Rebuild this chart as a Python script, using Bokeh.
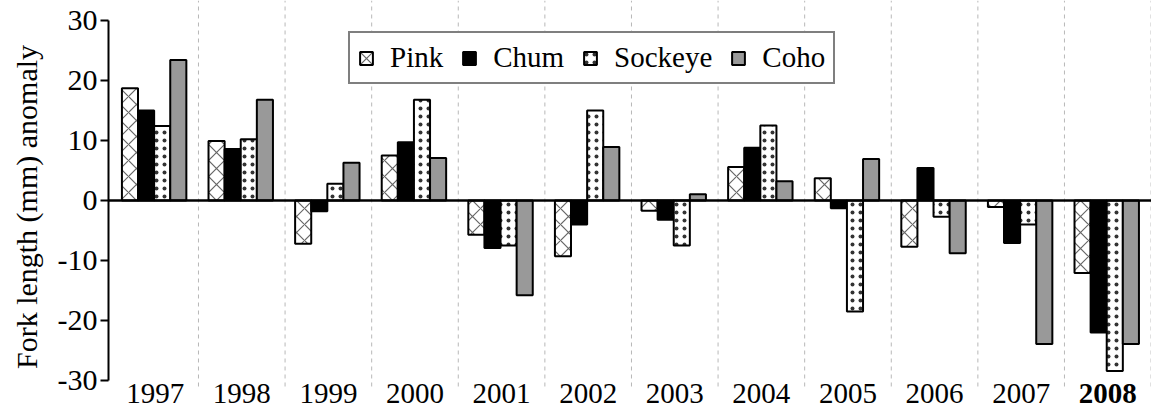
from bokeh.plotting import figure
from bokeh.models import (Range1d, ColumnDataSource, Legend, LegendItem, FixedTicker, Span)
from bokeh.core.properties import value
from bokeh.embed import file_html
from bokeh.resources import INLINE

years = ["1997", "1998", "1999", "2000", "2001", "2002", "2003", "2004", "2005", "2006", "2007", "2008"]
pink = [18.7, 9.9, -7.2, 7.5, -5.7, -9.3, -1.7, 5.6, 3.7, -7.7, -1.1, -12.1]
chum = [15.0, 8.6, -1.8, 9.7, -7.9, -4.0, -3.2, 8.8, -1.3, 5.4, -7.1, -22.0]
sockeye = [12.4, 10.2, 2.8, 16.8, -7.5, 15.0, -7.5, 12.5, -18.5, -2.7, -4.0, -28.4]
coho = [23.4, 16.8, 6.3, 7.1, -15.8, 8.9, 1.05, 3.2, 6.9, -8.8, -23.9, -23.9]
species = ["Pink", "Chum", "Sockeye", "Coho"]
y_ticks = [-30, -20, -10, 0, 10, 20, 30]

FONT = "Liberation Serif"
W, H = 1151, 413

p = figure(width=W, height=H, output_backend="svg", toolbar_location=None,
           x_range=Range1d(-0.039, 12.005), y_range=Range1d(-35.5, 33.33),
           x_axis_location=None, min_border_left=108, min_border_right=0,
           min_border_top=0, min_border_bottom=0)
p.grid.visible = False
p.outline_line_color = None
p.background_fill_color = "white"
p.border_fill_color = "white"

ax = p.yaxis[0]
ax.ticker = FixedTicker(ticks=y_ticks)
ax.major_label_overrides = {t: str(t) for t in y_ticks}
ax.bounds = (-30, 30)
ax.axis_line_width = 2
ax.axis_line_color = "black"
ax.major_tick_line_width = 2
ax.major_tick_out = 8
ax.major_tick_in = 0
ax.minor_tick_line_color = None
ax.major_label_text_font = FONT
ax.major_label_text_font_size = "30px"
ax.major_label_text_color = "black"
ax.major_label_standoff = 3
ax.axis_label = "Fork length (mm) anomaly"
ax.axis_label_text_font = FONT
ax.axis_label_text_font_size = "30px"
ax.axis_label_text_font_style = "normal"
ax.axis_label_text_color = "black"
ax.axis_label_standoff = 12

# group separators
sep_x = [i + 1 for i in range(12)]
p.segment(x0=sep_x, x1=sep_x, y0=[-31] * 12, y1=[33.33] * 12,
          line_color="#b8b8b8", line_width=1, line_dash="4 4")

w = 0.186
centers = [i + 0.5 - 0.012 for i in range(12)]
styles = [
    dict(fill_color="white", hatch_pattern="diagonal_cross", hatch_color="#666666",
         hatch_scale=16, hatch_weight=1.2),
    dict(fill_color="black"),
    dict(fill_color="white", hatch_pattern="dot", hatch_color="#333333",
         hatch_scale=8, hatch_weight=1.5),
    dict(fill_color="#999999"),
]
renderers = []
for k, (name, vals, st) in enumerate(zip(species, [pink, chum, sockeye, coho], styles)):
    xs = [c + (k - 1.5) * w for c in centers]
    src = ColumnDataSource(dict(x=xs, top=vals))
    r = p.vbar(x="x", top="top", bottom=0, width=w, source=src,
               line_color="black", line_width=2, **st)
    renderers.append(r)

p.add_layout(Span(location=0, dimension="width", line_color="black", line_width=2.5))

# year labels
normal_years = years[:-1]
p.text(x=[i + 0.5 for i in range(11)], y=[-32.2] * 11, text=normal_years,
       text_font=value(FONT), text_font_size="29px", text_align="center",
       text_baseline="alphabetic", text_color="black")
p.text(x=[11.5], y=[-32.2], text=[years[-1]],
       text_font=value(FONT), text_font_size="29px", text_align="center",
       text_baseline="alphabetic", text_color="black", text_font_style="bold")

legend = Legend(items=[LegendItem(label=n, renderers=[r]) for n, r in zip(species, renderers)],
                orientation="horizontal", location=(240, 329))
legend.label_text_font = FONT
legend.label_text_font_size = "29px"
legend.label_text_color = "black"
legend.glyph_width = 16
legend.glyph_height = 16
legend.label_standoff = 16
legend.spacing = 18
legend.padding = 8
legend.margin = 0
legend.border_line_color = "black"
legend.border_line_width = 2
legend.background_fill_color = "white"
legend.background_fill_alpha = 1
p.add_layout(legend, "center")

open("out.html", "w").write(file_html(p, INLINE))
